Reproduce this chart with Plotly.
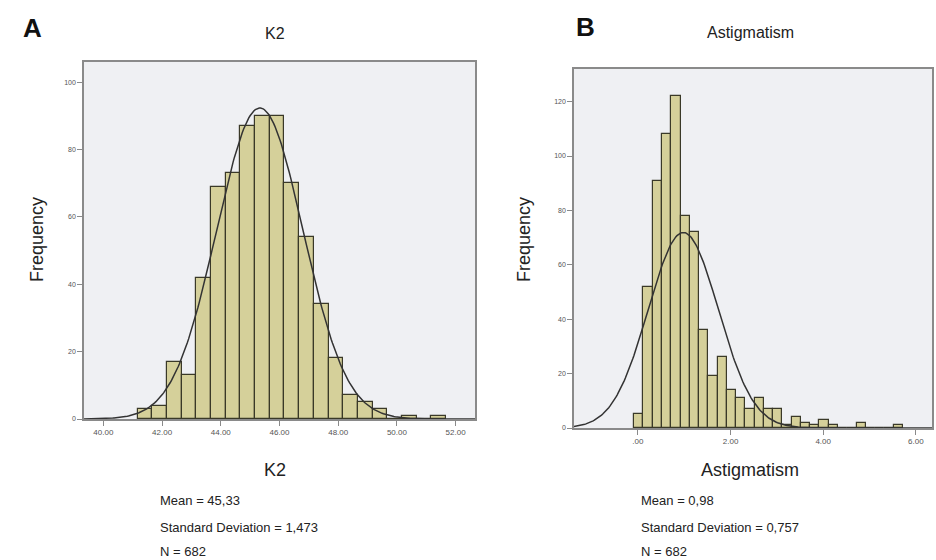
import numpy as np
import plotly.graph_objects as go

# ---- K2 histogram (bin width 0.5) ----
k2_first_edge = 41.17
k2_bin_width = 0.5
k2_counts = [3, 4, 17, 13, 42, 69, 73, 87, 90, 90, 70, 54, 34, 18, 7, 5, 3, 0, 1, 0, 1]
k2_mean, k2_sd, k2_n = 45.33, 1.473, 682
k2_ticks = [40, 42, 44, 46, 48, 50, 52]
k2_tick_text = ["40.00", "42.00", "44.00", "46.00", "48.00", "50.00", "52.00"]
k2_yticks = [0, 20, 40, 60, 80, 100]

# ---- Astigmatism histogram (bin width 0.2) ----
ast_first_edge = -0.08
ast_bin_width = 0.2
ast_counts = [5, 52, 91, 108, 122, 78, 72, 36, 19, 26, 14, 11, 7, 11, 7, 7,
              1, 4, 2, 1, 3, 1, 0, 0, 2, 0, 0, 0, 1]
ast_mean, ast_sd, ast_n = 0.98, 0.757, 682
ast_ticks = [0, 2, 4, 6]
ast_tick_text = [".00", "2.00", "4.00", "6.00"]
ast_yticks = [0, 20, 40, 60, 80, 100, 120]

W, H = 936, 560
BAR_FILL = "#d5d09a"
BAR_EDGE = "#3a3928"
PLOT_BG = "#eff0f3"
FRAME = "#8a8a8a"


def px(x):
    return x / W


def py(y):
    return 1 - y / H


def centers(first_edge, width, counts):
    return [first_edge + width * (i + 0.5) for i in range(len(counts))]


def normal_curve(mean, sd, n, width, lo, hi):
    xs = np.linspace(lo, hi, 300)
    ys = n * width / (sd * np.sqrt(2 * np.pi)) * np.exp(-0.5 * ((xs - mean) / sd) ** 2)
    return xs, ys


fig = go.Figure()

# K2 panel
fig.add_trace(go.Bar(
    x=centers(k2_first_edge, k2_bin_width, k2_counts), y=k2_counts,
    width=k2_bin_width, marker=dict(color=BAR_FILL, line=dict(color=BAR_EDGE, width=1.2)),
    xaxis="x", yaxis="y", showlegend=False))
cx, cy = normal_curve(k2_mean, k2_sd, k2_n, k2_bin_width, 39.34, 52.66)
fig.add_trace(go.Scatter(x=cx, y=cy, mode="lines", line=dict(color="#333", width=1.5),
                         xaxis="x", yaxis="y", showlegend=False))

# Astigmatism panel
fig.add_trace(go.Bar(
    x=centers(ast_first_edge, ast_bin_width, ast_counts), y=ast_counts,
    width=ast_bin_width, marker=dict(color=BAR_FILL, line=dict(color=BAR_EDGE, width=1.2)),
    xaxis="x2", yaxis="y2", showlegend=False))
cx, cy = normal_curve(ast_mean, ast_sd, ast_n, ast_bin_width, -1.38, 6.35)
fig.add_trace(go.Scatter(x=cx, y=cy, mode="lines", line=dict(color="#333", width=1.5),
                         xaxis="x2", yaxis="y2", showlegend=False))

tick_family = "Liberation Sans, Arial, sans-serif"
axis_common = dict(showgrid=False, zeroline=False, showline=True, mirror=True,
                   linecolor=FRAME, linewidth=1.5, ticks="outside", ticklen=5,
                   tickcolor=FRAME, automargin=False)
xtick_font = dict(family=tick_family, size=8, color="#555")
ytick_font = dict(family=tick_family, size=7, color="#555")

fig.update_layout(
    width=W, height=H, margin=dict(l=0, r=0, t=0, b=0),
    paper_bgcolor="white", plot_bgcolor=PLOT_BG, bargap=0,
    xaxis=dict(domain=[px(84), px(475)], range=[39.34, 52.66], anchor="y",
               tickvals=k2_ticks, ticktext=k2_tick_text, tickfont=xtick_font, **axis_common),
    yaxis=dict(domain=[py(419), py(62)], range=[0, 106], anchor="x",
               tickvals=k2_yticks, tickfont=ytick_font, **axis_common),
    xaxis2=dict(domain=[px(574), px(932)], range=[-1.38, 6.35], anchor="y2",
                tickvals=ast_ticks, ticktext=ast_tick_text, tickfont=xtick_font, **axis_common),
    yaxis2=dict(domain=[py(428), py(69)], range=[0, 132], anchor="x2",
                tickvals=ast_yticks, tickfont=ytick_font, **axis_common),
)

label_font = "Liberation Sans, Arial, sans-serif"


def text(x, y, s, size, family=label_font, color="#222", anchor="center", angle=0):
    fig.add_annotation(x=px(x), y=py(y), xref="paper", yref="paper", text=s,
                       showarrow=False, xanchor=anchor, yanchor="middle",
                       textangle=angle, font=dict(family=family, size=size, color=color))


# panel letters and titles
text(32, 28, "<b>A</b>", 26, color="#111")
text(585, 27, "<b>B</b>", 26, color="#111")
text(275, 33, "K2", 16)
text(750, 32, "Astigmatism", 16)

# axis titles
text(37, 240, "Frequency", 18, angle=-90)
text(524, 240, "Frequency", 18, angle=-90)
text(275, 470, "K2", 18)
text(750, 470, "Astigmatism", 18)

# summary statistics
for x0, mean_s, sd_s, n in [(158, "45,33", "1,473", k2_n), (639, "0,98", "0,757", ast_n)]:
    text(x0, 500, f"Mean = {mean_s}", 13, anchor="left")
    text(x0, 527, f"Standard Deviation = {sd_s}", 13, anchor="left")
    text(x0, 551, f"N = {n}", 13, anchor="left")

fig.write_html("out.html")
